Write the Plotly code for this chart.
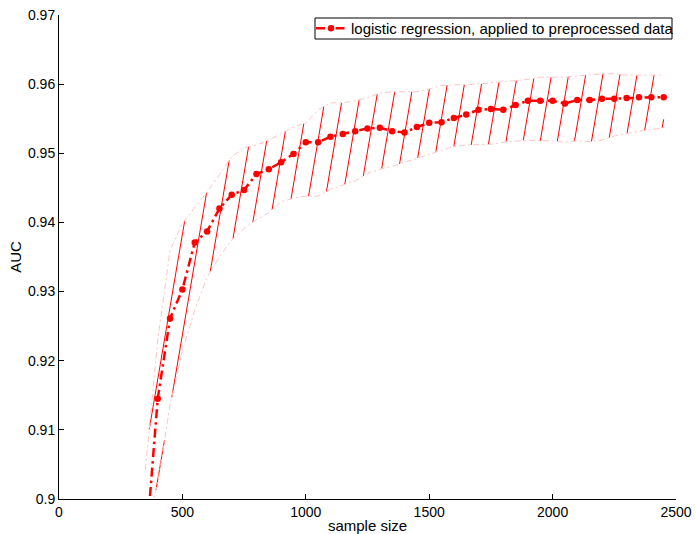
import numpy as np
import plotly.graph_objects as go

# ---- data -------------------------------------------------------------
sample_size = [350, 400, 450, 500, 550, 600, 650, 700, 750, 800, 850, 900, 950,
               1000, 1050, 1100, 1150, 1200, 1250, 1300, 1350, 1400, 1450, 1500,
               1550, 1600, 1650, 1700, 1750, 1800, 1850, 1900, 1950, 2000, 2050,
               2100, 2150, 2200, 2250, 2300, 2350, 2400, 2450]

auc_mean = [0.8920, 0.9145, 0.9261, 0.9303, 0.9371, 0.9387, 0.9420, 0.9440, 0.9447,
            0.9470, 0.9477, 0.9487, 0.9499, 0.9516, 0.9516, 0.9524, 0.9528, 0.9532,
            0.9536, 0.9537, 0.9532, 0.9530, 0.9538, 0.9544, 0.9545, 0.9551, 0.9556,
            0.9563, 0.9564, 0.9563, 0.9570, 0.9576, 0.9576, 0.9576, 0.9572, 0.9577,
            0.9577, 0.9579, 0.9579, 0.9580, 0.9581, 0.9581, 0.9581]

auc_upper = [0.9042, 0.9230, 0.9360, 0.9398, 0.9422, 0.9444, 0.9469, 0.9495, 0.9508,
             0.9512, 0.9519, 0.9529, 0.9538, 0.9544, 0.9563, 0.9573, 0.9573, 0.9576,
             0.9580, 0.9587, 0.9589, 0.9589, 0.9589, 0.9593, 0.9598, 0.9599, 0.9599,
             0.9600, 0.9602, 0.9603, 0.9605, 0.9607, 0.9610, 0.9610, 0.9610, 0.9612,
             0.9614, 0.9615, 0.9615, 0.9613, 0.9613, 0.9613, 0.9613]

auc_lower = [0.8950, 0.9023, 0.9136, 0.9215, 0.9273, 0.9321, 0.9350, 0.9375, 0.9391,
             0.9404, 0.9414, 0.9430, 0.9435, 0.9438, 0.9438, 0.9448, 0.9454, 0.9460,
             0.9471, 0.9477, 0.9481, 0.9487, 0.9493, 0.9499, 0.9505, 0.9510, 0.9512,
             0.9512, 0.9513, 0.9516, 0.9518, 0.9519, 0.9518, 0.9518, 0.9516, 0.9518,
             0.9517, 0.9519, 0.9525, 0.9529, 0.9532, 0.9534, 0.9537]

x_ticks = [0, 500, 1000, 1500, 2000, 2500]
y_ticks = [0.90, 0.91, 0.92, 0.93, 0.94, 0.95, 0.96, 0.97]
y_tick_text = ["0.9", "0.91", "0.92", "0.93", "0.94", "0.95", "0.96", "0.97"]

series_name = "logistic regression, applied to preprocessed data"

# ---- geometry of the axes box ----------------------------------------
W, H = 696, 534
MARGIN = dict(l=59, r=20, t=15, b=35)
X_RANGE = (0, 2500)
Y_RANGE = (0.90, 0.97)
plot_w = W - MARGIN["l"] - MARGIN["r"]
plot_h = H - MARGIN["t"] - MARGIN["b"]
kx = plot_w / (X_RANGE[1] - X_RANGE[0])   # px per sample
ky = plot_h / (Y_RANGE[1] - Y_RANGE[0])   # px per AUC unit


def px_to_paper(px, py):
    """Window pixel position -> paper coordinates of the axes box."""
    return (px - MARGIN["l"]) / plot_w, (H - MARGIN["b"] - py) / plot_h


# ---- slanted hatching between the lower and upper band ----------------
xs = np.asarray(sample_size, float)
lo = np.asarray(auc_lower, float)
up = np.asarray(auc_upper, float)

HATCH_SLOPE = 0.17     # horizontal px per vertical px
HATCH_STEP = 17.1      # px between hatch lines
HATCH_PHASE = 10.0

hx, hy = [], []
yy_px = np.linspace(-80, plot_h + 20, 6000)
c = np.floor((xs[0] * kx - HATCH_SLOPE * plot_h) / HATCH_STEP) * HATCH_STEP + HATCH_PHASE
while c < xs[-1] * kx + HATCH_STEP:
    xx = (c + HATCH_SLOPE * yy_px) / kx
    inside_x = (xx >= xs[0]) & (xx <= xs[-1])
    lo_px = (np.interp(xx, xs, lo) - Y_RANGE[0]) * ky
    up_px = (np.interp(xx, xs, up) - Y_RANGE[0]) * ky
    mask = inside_x & (yy_px >= lo_px) & (yy_px <= up_px)
    if mask.any():
        idx = np.flatnonzero(mask)
        runs = np.split(idx, np.flatnonzero(np.diff(idx) > 1) + 1)
        for r in runs:
            a, b = r[0], r[-1]
            hx += [xx[a], xx[b], None]
            hy += [yy_px[a] / ky + Y_RANGE[0], yy_px[b] / ky + Y_RANGE[0], None]
    c += HATCH_STEP

fig = go.Figure()

fig.add_trace(go.Scatter(
    x=hx, y=hy, mode="lines",
    line=dict(color="#ff0000", width=1),
    showlegend=False, hoverinfo="skip"))

for band in (auc_upper, auc_lower):
    fig.add_trace(go.Scatter(
        x=sample_size, y=band, mode="lines",
        line=dict(color="#ffc4c4", width=1, dash="6px,3px,2px,3px"),
        showlegend=False, hoverinfo="skip"))

fig.add_trace(go.Scatter(
    x=sample_size, y=auc_mean, mode="lines+markers",
    name=series_name,
    line=dict(color="#ff0000", width=2.5, dash="9px,4px,2.5px,4px"),
    marker=dict(color="#ff0000", size=6.5, symbol="circle"),
    cliponaxis=True))

font_family = "Liberation Sans, Arial, Helvetica, sans-serif"

# legend frame
fx0, fy0 = px_to_paper(315, 39)
fx1, fy1 = px_to_paper(672, 18)
fig.add_shape(type="rect", xref="paper", yref="paper",
              x0=fx0, y0=fy0, x1=fx1, y1=fy1,
              line=dict(color="black", width=1), fillcolor="white", layer="above")
lx, ly = px_to_paper(311, 28.5)

fig.update_layout(
    width=W, height=H,
    margin=MARGIN,
    paper_bgcolor="white", plot_bgcolor="white",
    font=dict(family=font_family, size=14, color="black"),
    showlegend=True,
    legend=dict(
        x=lx, y=ly, xanchor="left", yanchor="middle",
        bgcolor="rgba(0,0,0,0)", borderwidth=0,
        font=dict(family=font_family, size=15, color="black"),
        itemwidth=30, tracegroupgap=0,
    ),
)

fig.update_xaxes(
    range=list(X_RANGE), tickvals=x_ticks,
    ticks="inside", ticklen=5, tickcolor="black", tickwidth=1,
    tickfont=dict(size=14),
    showline=True, linecolor="black", linewidth=1, mirror=False,
    showgrid=False, zeroline=False, automargin=False,
    title=dict(text="sample size", standoff=1, font=dict(size=15)),
)
fig.update_yaxes(
    range=list(Y_RANGE), tickvals=y_ticks, ticktext=y_tick_text,
    ticks="inside", ticklen=5, tickcolor="black", tickwidth=1,
    tickfont=dict(size=14),
    showline=True, linecolor="black", linewidth=1, mirror=False,
    showgrid=False, zeroline=False, automargin=False,
    title=dict(text="AUC", standoff=2, font=dict(size=15)),
)

fig.write_html("out.html")
